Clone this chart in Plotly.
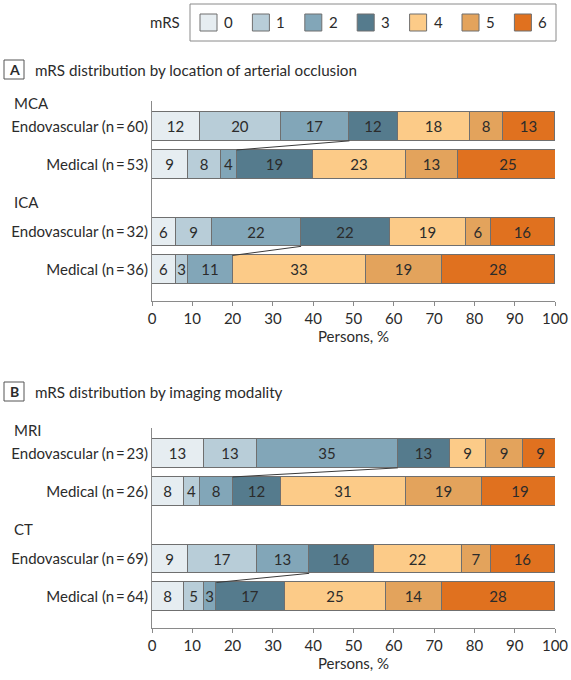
import plotly.graph_objects as go

# ---------------- data ----------------
mrs_levels = ["0", "1", "2", "3", "4", "5", "6"]
mrs_colors = ["#E6EDF1", "#B8CDD8", "#82A6B8", "#557B8D", "#FCCB88", "#E3A35C", "#E0711F"]

panel_a_title = "mRS distribution by location of arterial occlusion"
panel_a_groups = ["MCA", "ICA"]
panel_a_rows = ["Endovascular (n\u2009=\u200960)", "Medical (n\u2009=\u200953)",
                "Endovascular (n\u2009=\u200932)", "Medical (n\u2009=\u200936)"]
mca_endovascular = [12, 20, 17, 12, 18, 8, 13]
mca_medical = [9, 8, 4, 19, 23, 13, 25]
ica_endovascular = [6, 9, 22, 22, 19, 6, 16]
ica_medical = [6, 3, 11, 0, 33, 19, 28]

panel_b_title = "mRS distribution by imaging modality"
panel_b_groups = ["MRI", "CT"]
panel_b_rows = ["Endovascular (n\u2009=\u200923)", "Medical (n\u2009=\u200926)",
                "Endovascular (n\u2009=\u200969)", "Medical (n\u2009=\u200964)"]
mri_endovascular = [13, 13, 35, 13, 9, 9, 9]
mri_medical = [8, 4, 8, 12, 31, 19, 19]
ct_endovascular = [9, 17, 13, 16, 22, 7, 16]
ct_medical = [8, 5, 3, 17, 25, 14, 28]

x_ticks = list(range(0, 101, 10))
x_title = "Persons, %"

# ---------------- layout constants ----------------
W, H = 571, 680
FONT = "Lato"
FS = 15
TXT = "#2b2b2b"
AX = "#8a8a8a"
row_pos = [0, 1, 2.78, 3.78]
header_pos = [-0.63, 2.0]
bar_w = 0.76
y_range = [4.6, -0.67]


def px(x):
    return x / W


def py(y):
    return 1 - y / H


panels = [
    dict(rows=panel_a_rows, groups=panel_a_groups,
         values=[mca_endovascular, mca_medical, ica_endovascular, ica_medical],
         xa="x", ya="y"),
    dict(rows=panel_b_rows, groups=panel_b_groups,
         values=[mri_endovascular, mri_medical, ct_endovascular, ct_medical],
         xa="x2", ya="y2"),
]

fig = go.Figure()

for p in panels:
    for i, lvl in enumerate(mrs_levels):
        vals = [row[i] for row in p["values"]]
        fig.add_trace(go.Bar(
            x=vals, y=row_pos, orientation="h", width=bar_w,
            marker=dict(color=mrs_colors[i], line=dict(color="#6f6f6f", width=1)),
            text=[str(v) if v > 0 else "" for v in vals],
            textposition="inside", insidetextanchor="middle",
            textfont=dict(family=FONT, size=FS, color=TXT),
            showlegend=False, hoverinfo="skip",
            xaxis=p["xa"], yaxis=p["ya"],
        ))
    # connector lines between cumulative mRS 0-2 boundaries
    for e, m in [(0, 1), (2, 3)]:
        ce = sum(p["values"][e][:3])
        cm = sum(p["values"][m][:3])
        fig.add_trace(go.Scatter(
            x=[ce, cm], y=[row_pos[e] + bar_w / 2, row_pos[m] - bar_w / 2],
            mode="lines", line=dict(color="#3a3a3a", width=1),
            showlegend=False, hoverinfo="skip",
            xaxis=p["xa"], yaxis=p["ya"],
        ))

x_dom = [px(152), px(555)]
common_x = dict(
    domain=x_dom, range=[0, 100], tickvals=x_ticks, ticks="outside", ticklen=4,
    tickcolor=AX, showline=True, linecolor=AX, linewidth=1, showgrid=False,
    zeroline=False, automargin=False, tickfont=dict(family=FONT, size=FS, color=TXT),
    title=dict(text=x_title, font=dict(family=FONT, size=FS, color=TXT), standoff=1),
)
common_y = dict(
    range=y_range, tickvals=row_pos, showline=True, linecolor=AX, linewidth=1,
    showgrid=False, zeroline=False, ticks="", automargin=False,
    tickfont=dict(family=FONT, size=FS, color=TXT),
)

fig.update_layout(
    width=W, height=H, margin=dict(l=0, r=0, t=0, b=0, pad=0, autoexpand=False),
    plot_bgcolor="white", paper_bgcolor="white",
    barmode="stack", bargap=0,
    font=dict(family=FONT, size=FS, color=TXT),
    uniformtext=dict(minsize=FS, mode="show"),
    xaxis=dict(anchor="y", **common_x),
    yaxis=dict(anchor="x", domain=[py(301), py(101)], ticktext=panel_a_rows, **common_y),
    xaxis2=dict(anchor="y2", **common_x),
    yaxis2=dict(anchor="x2", domain=[py(628), py(428)], ticktext=panel_b_rows, **common_y),
)

shapes = []
annotations = []

# group headers
for p in panels:
    for g, hp in zip(p["groups"], header_pos):
        annotations.append(dict(
            text=g, x=px(12), y=hp, xref="paper", yref=p["ya"],
            xanchor="left", yanchor="middle", showarrow=False,
            font=dict(family=FONT, size=FS, color=TXT)))

# panel titles with boxed letters
for letter, title, yc in [("A", panel_a_title, 70), ("B", panel_b_title, 392)]:
    shapes.append(dict(type="rect", xref="paper", yref="paper",
                       x0=px(4), x1=px(24), y0=py(yc - 10), y1=py(yc + 9),
                       line=dict(color="#555", width=1)))
    annotations.append(dict(text="<b>" + letter + "</b>", x=px(14), y=py(yc),
                            xref="paper", yref="paper", xanchor="center", yanchor="middle",
                            showarrow=False, font=dict(family=FONT, size=14, color=TXT)))
    annotations.append(dict(text=title, x=px(33), y=py(yc), xref="paper", yref="paper",
                            xanchor="left", yanchor="middle", showarrow=False,
                            font=dict(family=FONT, size=15.2, color=TXT)))

# legend
shapes.append(dict(type="rect", xref="paper", yref="paper",
                   x0=px(190), x1=px(556), y0=py(41), y1=py(4),
                   line=dict(color="#8a8a8a", width=1)))
annotations.append(dict(text="mRS", x=px(182), y=py(22), xref="paper", yref="paper",
                        xanchor="right", yanchor="middle", showarrow=False,
                        font=dict(family=FONT, size=FS, color=TXT)))
for i, (lvl, col) in enumerate(zip(mrs_levels, mrs_colors)):
    x0 = 200 + i * 52.4
    shapes.append(dict(type="rect", xref="paper", yref="paper",
                       x0=px(x0), x1=px(x0 + 17), y0=py(31), y1=py(14),
                       fillcolor=col, line=dict(color="#6f6f6f", width=1)))
    annotations.append(dict(text=lvl, x=px(x0 + 22), y=py(22), xref="paper", yref="paper",
                            xanchor="left", yanchor="middle", showarrow=False,
                            font=dict(family=FONT, size=FS, color=TXT)))

fig.update_layout(shapes=shapes, annotations=annotations)
fig.write_html("out.html", config={"displayModeBar": False},
               post_script="document.body.style.margin='0px';document.body.style.overflow='hidden';")
